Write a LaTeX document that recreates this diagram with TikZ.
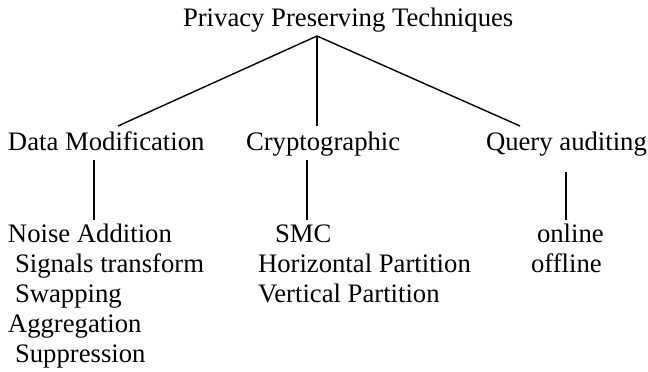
\documentclass[tikz,border=0pt]{standalone}
\usepackage{fontspec}
\setmainfont{Liberation Serif}
\begin{document}
\begin{tikzpicture}[x=1pt,y=-1pt,
  lbl/.style={anchor=base west,inner sep=0pt,outer sep=0pt,font=\fontsize{26.7}{30}\selectfont},
  branch/.style={line width=1.4pt,line cap=butt}]
\useasboundingbox (0,0) rectangle (648,372);
% texts
\node[lbl] (ppt) at (183,27) {Privacy Preserving Techniques};
\node[lbl] (dm) at (8,150) {Data Modification};
\node[lbl] (cr) at (246,150) {Cryptographic};
\node[lbl] (qa) at (486,150) {Query auditing};
\node[lbl] (na) at (8,242) {Noise Addition};
\node[lbl] (st) at (15,272) {Signals transform};
\node[lbl] (sw) at (15,302) {Swapping};
\node[lbl] (ag) at (8,332) {Aggregation};
\node[lbl] (su) at (15,362) {Suppression};
\node[lbl] (smc) at (275,242) {SMC};
\node[lbl] (hp) at (258,272) {Horizontal Partition};
\node[lbl] (vp) at (258,302) {Vertical Partition};
\node[lbl] (on) at (537,242) {online};
\node[lbl] (off) at (531,272) {offline};
% connector ends
\coordinate (apex) at (317,36);
\coordinate (dmtop) at (118,126);
\coordinate (crtop) at (317,126);
\coordinate (qatop) at (520,126);
\coordinate (dmA) at (94,160);
\coordinate (dmB) at (94,220);
\coordinate (crA) at (307,160);
\coordinate (crB) at (307,220);
\coordinate (qaA) at (566,172);
\coordinate (qaB) at (566,220);
% connectors
\draw[branch] (apex) -- (dmtop);
\draw[branch] (apex) -- (crtop);
\draw[branch] (apex) -- (qatop);
\draw[branch] (dmA) -- (dmB);
\draw[branch] (crA) -- (crB);
\draw[branch] (qaA) -- (qaB);
\end{tikzpicture}
\end{document}
